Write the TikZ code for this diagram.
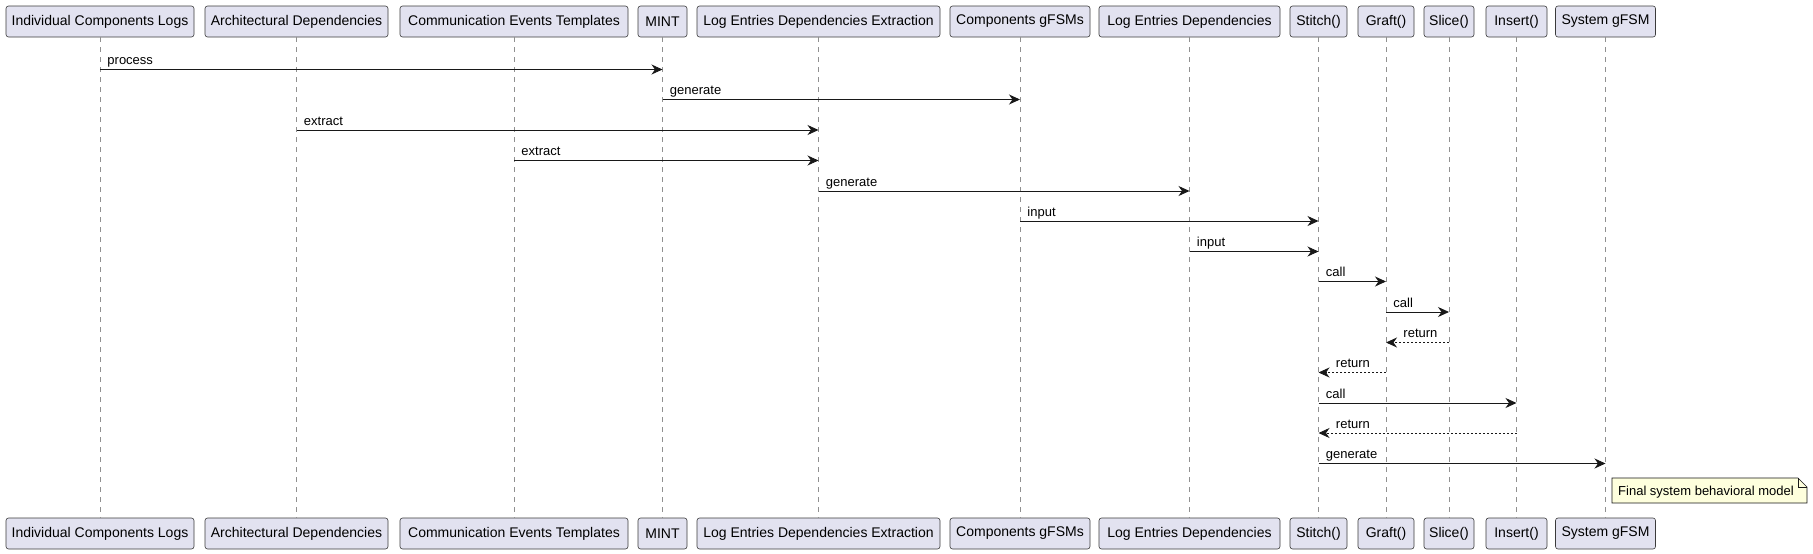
\documentclass[tikz,border=0pt]{standalone}
\usepackage{fontspec}
\setmainfont{Liberation Sans}
\usetikzlibrary{arrows.meta,shapes.misc,calc}
\definecolor{boxfill}{HTML}{E2E2F0}
\definecolor{boxline}{HTML}{181818}
\definecolor{notefill}{HTML}{FEFFDD}
\definecolor{lifegray}{HTML}{909090}
\tikzset{
  part/.style={draw=boxline!85, fill=boxfill, rounded corners=2.5pt, line width=0.6pt,
    minimum height=31pt, inner xsep=1pt, inner ysep=0pt,
    font=\fontsize{14}{16}\selectfont, text=black},
  life/.style={draw=lifegray, line width=0.7pt, dash pattern=on 5pt off 5pt},
  msg/.style={draw=boxline, line width=0.9pt, -{Stealth[length=11pt,width=10pt,inset=3.5pt]}},
  ret/.style={msg, dash pattern=on 2pt off 2pt},
  lbl/.style={anchor=base west, inner sep=0pt, font=\fontsize{13}{15}\selectfont},
}
\begin{document}
\begin{tikzpicture}[x=1pt,y=-1pt]
\useasboundingbox (0,0) rectangle (1813,554);
% participants: name, center x, width
\foreach \n/\cx/\w/\t in {
  1/100/188/Individual Components Logs,
  2/296.5/183/Architectural Dependencies,
  3/514/228/Communication Events Templates,
  4/662.5/49/MINT,
  5/818.5/243/Log Entries Dependencies Extraction,
  6/1020/140/Components gFSMs,
  7/1189.5/181/Log Entries Dependencies,
  8/1318.5/57/Stitch(),
  9/1386/56/Graft(),
  10/1449/50/Slice(),
  11/1516.5/61/Insert(),
  12/1605.5/100/System gFSM}{
  \node[part, minimum width=\w pt] (t\n) at (\cx,21.5) {\t};
  \node[part, minimum width=\w pt] (b\n) at (\cx,533.5) {\t};
  \draw[life] (t\n.south) -- (b\n.north);
}
% message rows
\foreach \i/\y in {1/69.5,2/99.5,3/130,4/160.5,5/191,6/221,7/251.5,8/281.5,9/312,10/342.5,11/372.5,12/403,13/433,14/463.5}{
  \coordinate (r\i) at (0,\y);
}
\draw[msg] (t1 |- r1) -- (t4 |- r1) node[pos=0,lbl,xshift=7pt,yshift=5pt] {process};
\draw[msg] (t4 |- r2) -- (t6 |- r2) node[pos=0,lbl,xshift=7pt,yshift=5pt] {generate};
\draw[msg] (t2 |- r3) -- (t5 |- r3) node[pos=0,lbl,xshift=7pt,yshift=5pt] {extract};
\draw[msg] (t3 |- r4) -- (t5 |- r4) node[pos=0,lbl,xshift=7pt,yshift=5pt] {extract};
\draw[msg] (t5 |- r5) -- (t7 |- r5) node[pos=0,lbl,xshift=7pt,yshift=5pt] {generate};
\draw[msg] (t6 |- r6) -- (t8 |- r6) node[pos=0,lbl,xshift=7pt,yshift=5pt] {input};
\draw[msg] (t7 |- r7) -- (t8 |- r7) node[pos=0,lbl,xshift=7pt,yshift=5pt] {input};
\draw[msg] (t8 |- r8) -- (t9 |- r8) node[pos=0,lbl,xshift=7pt,yshift=5pt] {call};
\draw[msg] (t9 |- r9) -- (t10 |- r9) node[pos=0,lbl,xshift=7pt,yshift=5pt] {call};
\draw[ret] (t10 |- r10) -- (t9 |- r10) node[pos=1,lbl,xshift=17pt,yshift=5pt] {return};
\draw[ret] (t9 |- r11) -- (t8 |- r11) node[pos=1,lbl,xshift=17pt,yshift=5pt] {return};
\draw[msg] (t8 |- r12) -- (t11 |- r12) node[pos=0,lbl,xshift=7pt,yshift=5pt] {call};
\draw[ret] (t11 |- r13) -- (t8 |- r13) node[pos=1,lbl,xshift=17pt,yshift=5pt] {return};
\draw[msg] (t8 |- r14) -- (t12 |- r14) node[pos=0,lbl,xshift=7pt,yshift=5pt] {generate};
% note
\coordinate (n1) at (1612,478);
\coordinate (n2) at (1807,503);
\draw[draw=boxline, fill=notefill, line width=0.6pt]
  (n1) -- ($(n2|-n1)+(-9,0)$) -- ($(n2|-n1)+(0,9)$) -- (n2) -- (n1|-n2) -- cycle;
\draw[draw=boxline, line width=0.6pt] ($(n2|-n1)+(-9,0)$) -- ($(n2|-n1)+(-9,9)$) -- ($(n2|-n1)+(0,9)$);
\node[anchor=base west, inner sep=0pt, font=\fontsize{13}{15}\selectfont] (note) at ($(n1)+(6,17)$) {Final system behavioral model};
\end{tikzpicture}
\end{document}
